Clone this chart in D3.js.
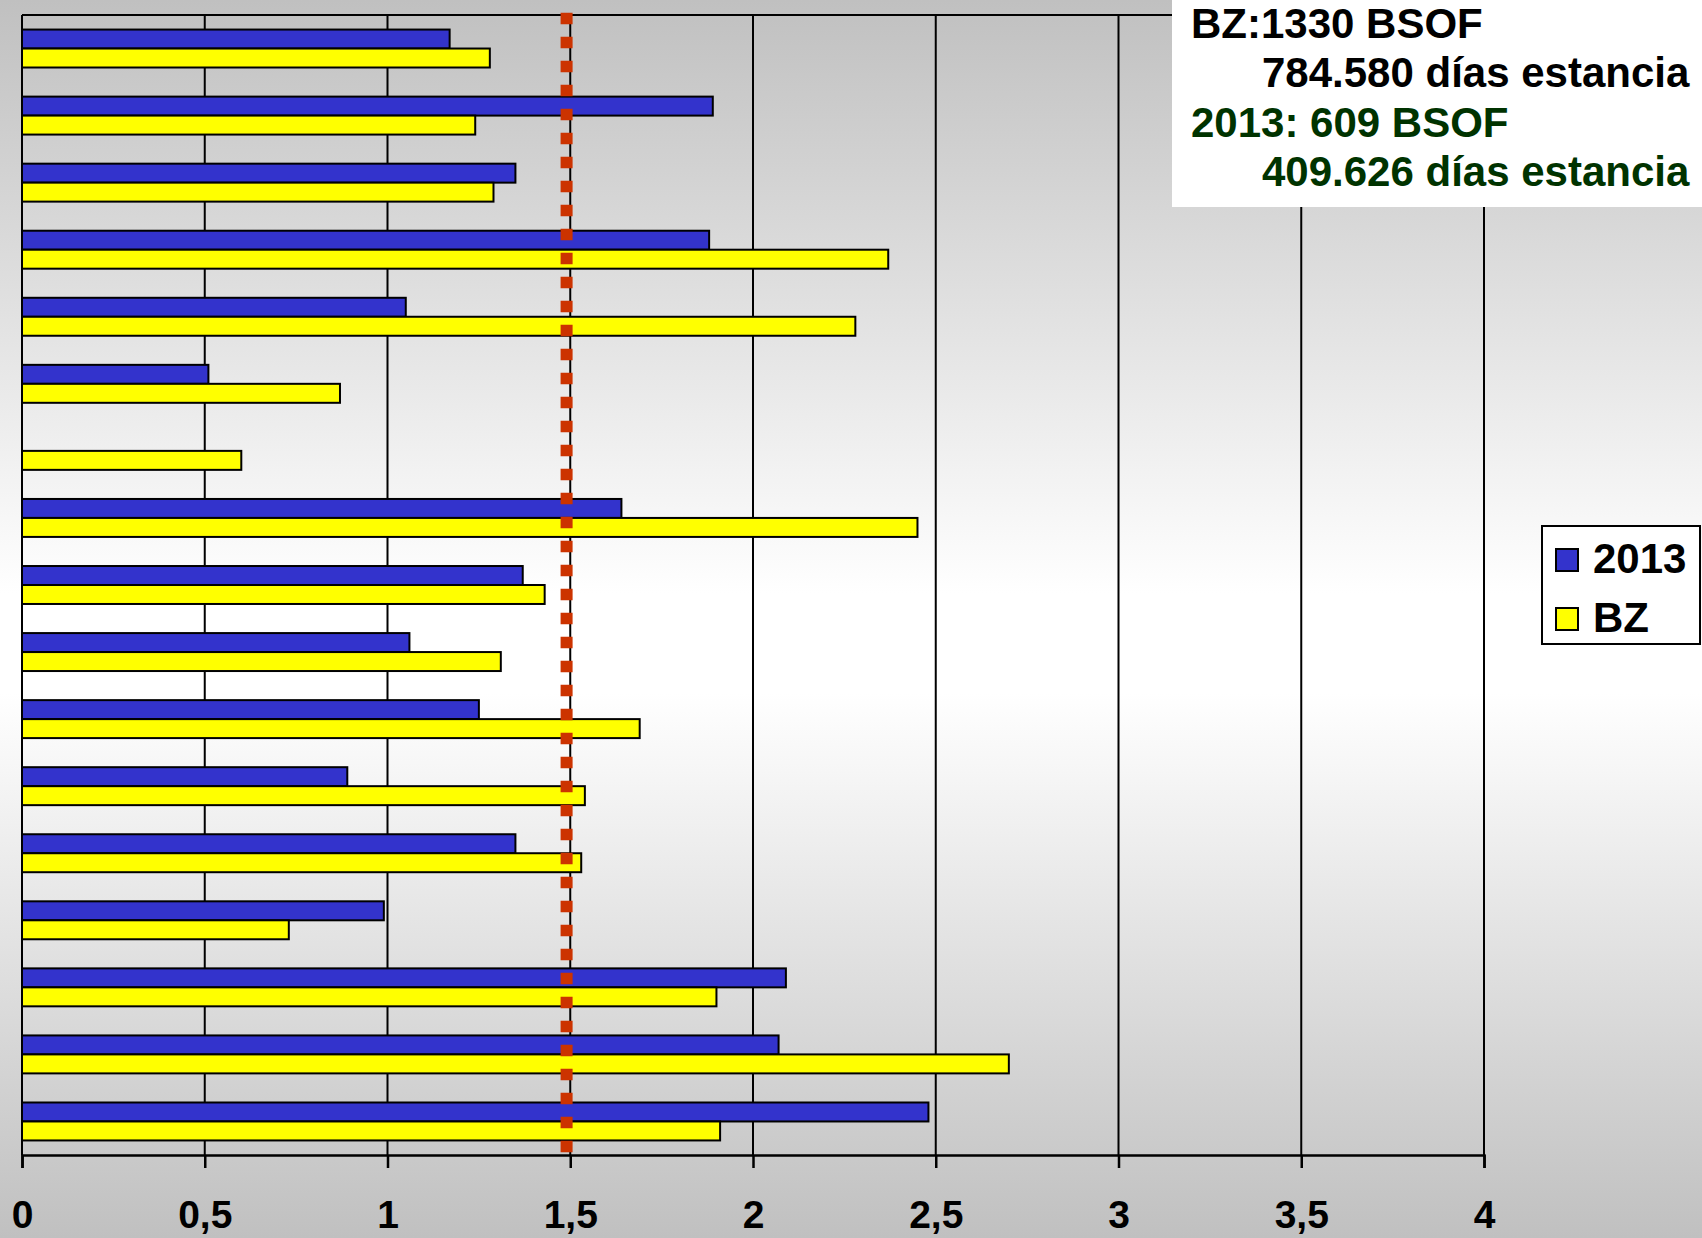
<!DOCTYPE html>
<html>
<head>
<meta charset="utf-8">
<script src="https://cdn.jsdelivr.net/npm/d3@7"></script>
<style>
  html, body { margin: 0; padding: 0; overflow: hidden; background: #fff; }
  svg { display: block; }
</style>
</head>
<body>
<svg id="chart" width="1702" height="1238"></svg>
<script>
// Categories, top to bottom (no labels are shown on the axis)
const categories = ["1", "2", "3", "4", "5", "6", "7", "8", "9", "10", "11", "12", "13", "14", "15", "16", "17"];
const seriesNames = ["2013", "BZ"];
const values2013 = [1.17, 1.89, 1.35, 1.88, 1.05, 0.51, null, 1.64, 1.37, 1.06, 1.25, 0.89, 1.35, 0.99, 2.09, 2.07, 2.48];
const valuesBZ   = [1.28, 1.24, 1.29, 2.37, 2.28, 0.87, 0.60, 2.45, 1.43, 1.31, 1.69, 1.54, 1.53, 0.73, 1.90, 2.70, 1.91];
const referenceValue = 1.49;
const xTicks = [0, 0.5, 1, 1.5, 2, 2.5, 3, 3.5, 4];
const infoLines = [
  { text: "BZ:1330 BSOF", indent: false, color: "#000000" },
  { text: "784.580 días estancia", indent: true, color: "#000000" },
  { text: "2013: 609 BSOF", indent: false, color: "#003300" },
  { text: "409.626 días estancia", indent: true, color: "#003300" }
];
const seriesColors = ["#3333cc", "#ffff00"];

const W = 1702, H = 1238;
const plot = { left: 22, right: 1484, top: 15, bottom: 1155 };
const FONT = "'Liberation Sans', Arial, sans-serif";

const svg = d3.select("#chart");

// Background: grey -> white -> grey vertical gradient
const defs = svg.append("defs");
const grad = defs.append("linearGradient")
  .attr("id", "bg").attr("x1", 0).attr("y1", 0).attr("x2", 0).attr("y2", 1);
grad.append("stop").attr("offset", "0%").attr("stop-color", "#c0c0c0");
grad.append("stop").attr("offset", "48%").attr("stop-color", "#ffffff");
grad.append("stop").attr("offset", "56%").attr("stop-color", "#ffffff");
grad.append("stop").attr("offset", "100%").attr("stop-color", "#c0c0c0");
svg.append("rect").attr("width", W).attr("height", H).attr("fill", "url(#bg)");

// Scales
const x = d3.scaleLinear().domain([0, 4]).range([plot.left, plot.right]);
const y = d3.scaleBand().domain(categories).range([plot.top, plot.bottom])
  .paddingInner(0.434).paddingOuter(0.217);
const ySub = d3.scaleBand().domain(seriesNames).range([0, y.bandwidth()]);

const locale = d3.formatLocale({ decimal: ",", thousands: ".", grouping: [3], currency: ["", "€"] });
const fmt = v => locale.format("~g")(v);

// Vertical gridlines
svg.append("g").selectAll("line")
  .data(xTicks.filter(t => t > 0))
  .join("line")
  .attr("x1", d => x(d)).attr("x2", d => x(d))
  .attr("y1", plot.top).attr("y2", plot.bottom)
  .attr("stroke", "#000").attr("stroke-width", 2);

// Top border of plot area
svg.append("line")
  .attr("x1", plot.left).attr("x2", plot.right)
  .attr("y1", plot.top).attr("y2", plot.top)
  .attr("stroke", "#000").attr("stroke-width", 2);

// Bars
const rows = categories.map((c, i) => ({
  cat: c,
  vals: [{ s: seriesNames[0], v: values2013[i] }, { s: seriesNames[1], v: valuesBZ[i] }]
}));
const groups = svg.append("g").selectAll("g")
  .data(rows).join("g")
  .attr("transform", d => `translate(0,${y(d.cat)})`);
groups.selectAll("rect")
  .data(d => d.vals.filter(e => e.v != null))
  .join("rect")
  .attr("x", x(0))
  .attr("y", e => ySub(e.s))
  .attr("width", e => x(e.v) - x(0))
  .attr("height", ySub.bandwidth())
  .attr("fill", e => seriesColors[seriesNames.indexOf(e.s)])
  .attr("stroke", "#000").attr("stroke-width", 2);

// Reference dotted line
svg.append("line")
  .attr("x1", x(referenceValue)).attr("x2", x(referenceValue))
  .attr("y1", 12.7).attr("y2", 1153)
  .attr("stroke", "#cc3300").attr("stroke-width", 12)
  .attr("stroke-dasharray", "11.5 12.5");

// Left axis line
svg.append("line")
  .attr("x1", plot.left).attr("x2", plot.left)
  .attr("y1", plot.top).attr("y2", plot.bottom)
  .attr("stroke", "#000").attr("stroke-width", 2);

// Bottom axis
const xAxis = d3.axisBottom(x).tickValues(xTicks).tickFormat(fmt).tickSize(13).tickPadding(50);
const axisG = svg.append("g").attr("transform", `translate(0,${plot.bottom})`).call(xAxis);
axisG.select(".domain").attr("stroke", "#000").attr("stroke-width", 2.5);
axisG.selectAll(".tick line").attr("stroke", "#000").attr("stroke-width", 2.5);
axisG.selectAll(".tick text")
  .attr("fill", "#000")
  .attr("font-family", FONT).attr("font-size", 39).attr("font-weight", "bold")
  .attr("dy", null).attr("y", 73);

// Info box in the top right corner
svg.append("rect")
  .attr("x", 1172).attr("y", 0).attr("width", W - 1172).attr("height", 207)
  .attr("fill", "#fff");
svg.append("g").selectAll("text")
  .data(infoLines).join("text")
  .attr("x", d => d.indent ? 1262 : 1191)
  .attr("y", (d, i) => 38 + i * 49.3)
  .attr("fill", d => d.color)
  .attr("font-family", FONT).attr("font-size", 42).attr("font-weight", "bold")
  .text(d => d.text);

// Legend
const legend = svg.append("g");
legend.append("rect")
  .attr("x", 1542).attr("y", 526).attr("width", 1700 - 1542).attr("height", 644 - 526)
  .attr("fill", "#fff").attr("stroke", "#000").attr("stroke-width", 2);
const items = legend.selectAll("g.item")
  .data(seriesNames).join("g").attr("class", "item")
  .attr("transform", (d, i) => `translate(1556,${549 + i * 59})`);
items.append("rect")
  .attr("width", 22).attr("height", 22)
  .attr("fill", (d, i) => seriesColors[i])
  .attr("stroke", "#000").attr("stroke-width", 2);
items.append("text")
  .attr("x", 37).attr("y", 24)
  .attr("font-family", FONT).attr("font-size", 42).attr("font-weight", "bold")
  .attr("fill", "#000")
  .text(d => d);
</script>
</body>
</html>
